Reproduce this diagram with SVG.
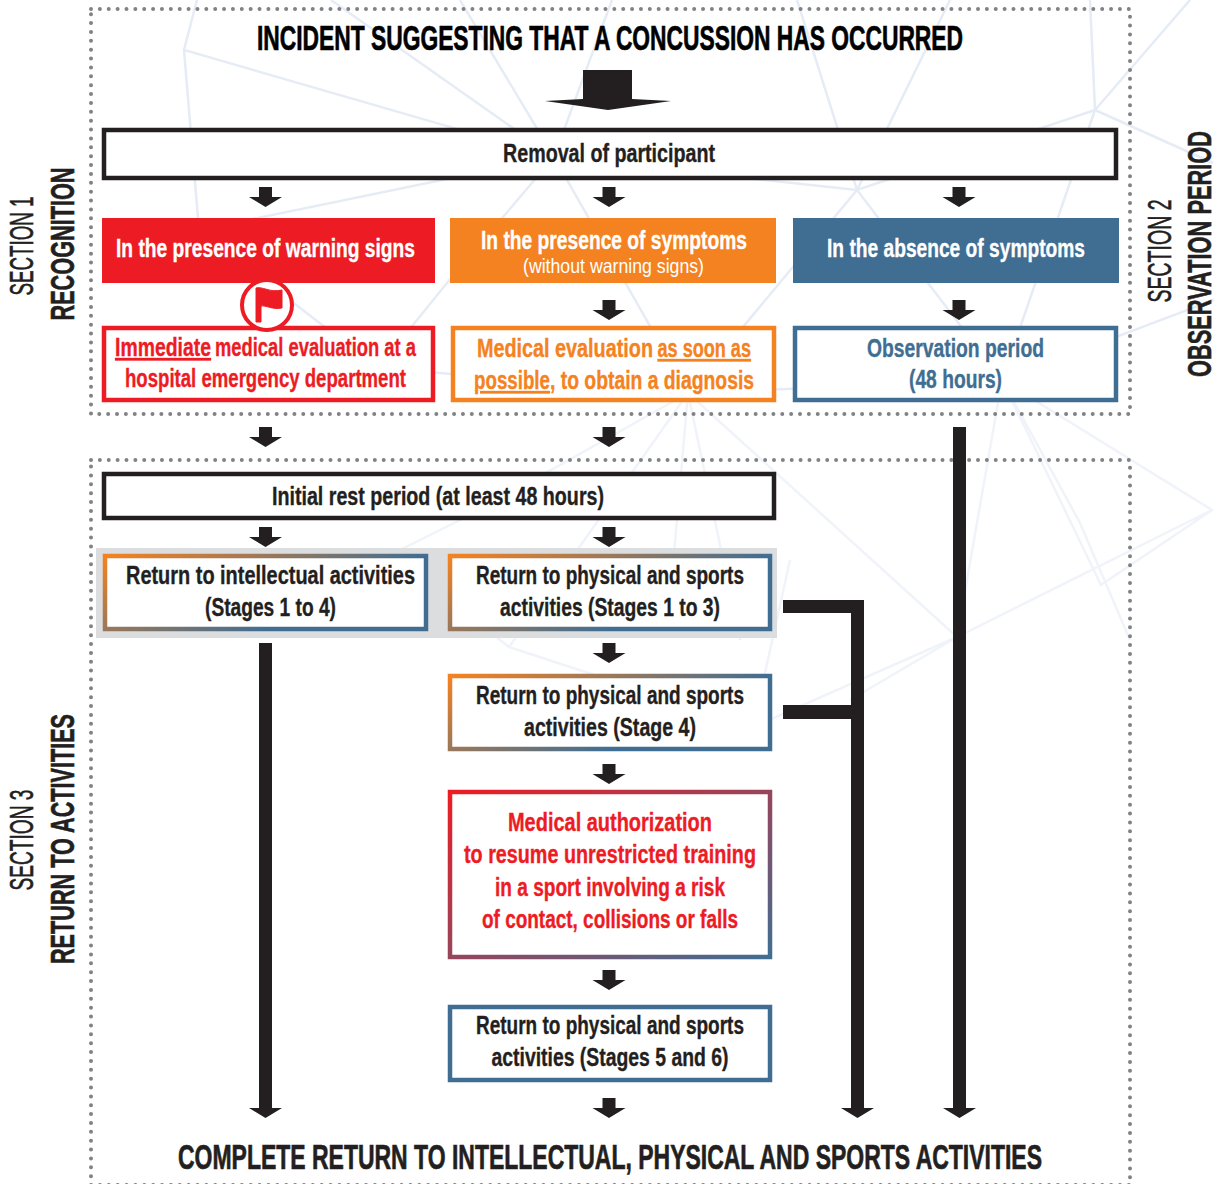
<svg xmlns="http://www.w3.org/2000/svg" width="1214" height="1184" viewBox="0 0 1214 1184">
<style>
text{font-family:"Liberation Sans Narrow","Liberation Sans",Arial,sans-serif;font-weight:700;text-anchor:middle}
.t{font-size:25px;fill:#231f20;stroke:#231f20;stroke-width:.35}
.h{font-size:35px;fill:#000;stroke:#000;stroke-width:.7}
.w{fill:#fff;stroke:#fff}
.r{fill:#ed1c24;stroke:#ed1c24}
.o{fill:#f58220;stroke:#f58220}
.b{fill:#406e93;stroke:#406e93}
.n{font-weight:400;stroke-width:0}
.s{font-size:33px;fill:#231f20;stroke:#231f20;stroke-width:.6}
.st{text-anchor:start}
.box{fill:#fff;stroke-width:4.5}
.dot{fill:none;stroke:#808285;stroke-width:4;stroke-linecap:round;stroke-dasharray:0 8.87}
.web{fill:none;stroke:#e6ecf5;stroke-width:2.5}
.web2{fill:none;stroke:#f0f3f9;stroke-width:2.5}
.d{fill:#231f20}
</style>
<defs>
<linearGradient id="ob" x1="0" y1="0" x2="0.8" y2="0.4"><stop offset="0" stop-color="#f58220"/><stop offset="1" stop-color="#406e93"/></linearGradient>
<linearGradient id="rb" x1="0" y1="0" x2="1" y2="1"><stop offset="0" stop-color="#ed1c24"/><stop offset="1" stop-color="#406e93"/></linearGradient>
<path id="a" d="M-6.500,0H6.500V10H16.500L0,20L-16.500,10H-6.500Z"/>
</defs>
<rect width="1214" height="1184" fill="#fff"/>
<g id="background">
<path class="web" d="M197,0L184,50L554,157L857,190L1095,110L1090,0M184,50L199,230L378,368L688,393L1002,380L857,190L797,0M331,0L554,157L612,0M460,0L554,157L688,393M199,230L554,157L447,283L378,368M950,0L857,190L688,393M1095,110L1190,0M1095,110L1213,163M1095,110L1002,380L1214,300"/>
<path class="web2" d="M1002,380L1212,510L1101,585L1002,380L957,637L1212,510M688,393L957,637M688,393L740,640M688,393L670,600M688,393L480,510L300,600M688,393L509,647L753,727L957,637L850,700M1002,380L1080,523L1130,640M509,647L450,600M753,727L790,560"/>
</g>
<g id="frames">
<rect class="dot" x="91" y="9" width="1039" height="405"/>
<rect class="dot" x="91" y="460" width="1039" height="725"/>
<rect x="96" y="548" width="681" height="90" fill="#dcddde"/>
</g>
<g id="connectors" class="d">
<path d="M583,70H632V99L671,101L608,110L545,101L583,99Z"/>
<use href="#a" x="265.500" y="187"/><use href="#a" x="609" y="187"/><use href="#a" x="959" y="187"/>
<use href="#a" x="609" y="300"/><use href="#a" x="959" y="300"/>
<use href="#a" x="265.500" y="427"/><use href="#a" x="609" y="427"/>
<use href="#a" x="265.500" y="527"/><use href="#a" x="609" y="527"/>
<use href="#a" x="609" y="643"/><use href="#a" x="609" y="764"/><use href="#a" x="609" y="970"/><use href="#a" x="609" y="1098"/>
<path d="M259,643H272V1108H282L265.500,1118L249,1108H259Z"/>
<path d="M783,600H864V1108H874L857.500,1118L841,1108H851V719H783V705H851V613H783Z"/>
<path d="M953,427H966V1108H976L959.500,1118L943,1108H953Z"/>
</g>
<g id="title"><text class="h" x="610" y="50" textLength="706" lengthAdjust="spacingAndGlyphs">INCIDENT SUGGESTING THAT A CONCUSSION HAS OCCURRED</text></g>
<g id="removal"><rect class="box" x="104" y="130" width="1012" height="48" stroke="#231f20"/><text class="t" x="609" y="162" textLength="212" lengthAdjust="spacingAndGlyphs">Removal of participant</text></g>
<g id="warning"><rect x="102" y="218" width="333" height="65" fill="#ed1c24"/><text class="t w" x="265.500" y="257" textLength="299" lengthAdjust="spacingAndGlyphs">In the presence of warning signs</text></g>
<g id="symptoms"><rect x="450" y="218" width="326" height="65" fill="#f58220"/><text class="t w" x="614" y="249" textLength="266" lengthAdjust="spacingAndGlyphs">In the presence of symptoms</text><text class="t w n" style="font-size:21px" x="613.500" y="273" textLength="181" lengthAdjust="spacingAndGlyphs">(without warning signs)</text></g>
<g id="absence"><rect x="793" y="218" width="326" height="65" fill="#406e93"/><text class="t w" x="956" y="257" textLength="258" lengthAdjust="spacingAndGlyphs">In the absence of symptoms</text></g>
<g id="immediate"><rect class="box" x="104" y="328" width="329" height="72" stroke="#ed1c24"/><text class="t r st" x="115" y="356" textLength="96" lengthAdjust="spacingAndGlyphs" text-decoration="underline">Immediate</text><text class="t r st" x="215" y="356" textLength="201" lengthAdjust="spacingAndGlyphs">medical evaluation at a</text><text class="t r" x="265.500" y="387" textLength="281" lengthAdjust="spacingAndGlyphs">hospital emergency department</text></g>
<g id="flag"><circle cx="267" cy="305" r="25" fill="#fff" stroke="#ed1c24" stroke-width="4"/><path class="r" d="M256,288C262,286 270,293 282,290V308C272,310 266,305 261,306V322H256Z"/></g>
<g id="evaluation"><rect class="box" x="453" y="328" width="321" height="72" stroke="#f58220"/><text class="t o st" x="477" y="357" textLength="176" lengthAdjust="spacingAndGlyphs">Medical evaluation</text><text class="t o st" x="657.500" y="357" textLength="93.500" lengthAdjust="spacingAndGlyphs" text-decoration="underline">as soon as</text><text class="t o st" x="474" y="389" textLength="76" lengthAdjust="spacingAndGlyphs" text-decoration="underline">possible</text><text class="t o st" x="550" y="389" textLength="204" lengthAdjust="spacingAndGlyphs">, to obtain a diagnosis</text></g>
<g id="observation"><rect class="box" x="795" y="328" width="321" height="72" stroke="#406e93"/><text class="t b" x="955.500" y="357" textLength="177" lengthAdjust="spacingAndGlyphs">Observation period</text><text class="t b" x="955.500" y="388" textLength="93" lengthAdjust="spacingAndGlyphs">(48 hours)</text></g>
<g id="rest"><rect class="box" x="104" y="474" width="670" height="44" stroke="#231f20"/><text class="t" x="438" y="505" textLength="332" lengthAdjust="spacingAndGlyphs">Initial rest period (at least 48 hours)</text></g>
<g id="intellectual"><rect class="box" x="105" y="556" width="321" height="73" stroke="url(#ob)"/><text class="t" x="270.500" y="584" textLength="289" lengthAdjust="spacingAndGlyphs">Return to intellectual activities</text><text class="t" x="270.500" y="616" textLength="131" lengthAdjust="spacingAndGlyphs">(Stages 1 to 4)</text></g>
<g id="physical13"><rect class="box" x="450" y="556" width="320" height="73" stroke="url(#ob)"/><text class="t" x="610" y="584" textLength="268" lengthAdjust="spacingAndGlyphs">Return to physical and sports</text><text class="t" x="610" y="616" textLength="220" lengthAdjust="spacingAndGlyphs">activities (Stages 1 to 3)</text></g>
<g id="physical4"><rect class="box" x="450" y="676" width="320" height="73" stroke="url(#ob)"/><text class="t" x="610" y="704" textLength="268" lengthAdjust="spacingAndGlyphs">Return to physical and sports</text><text class="t" x="610" y="736" textLength="172" lengthAdjust="spacingAndGlyphs">activities (Stage 4)</text></g>
<g id="authorization"><rect class="box" x="450" y="792" width="320" height="165" stroke="url(#rb)"/><text class="t r" x="610" y="831" textLength="204" lengthAdjust="spacingAndGlyphs">Medical authorization</text><text class="t r" x="610" y="863" textLength="292" lengthAdjust="spacingAndGlyphs">to resume unrestricted training</text><text class="t r" x="610" y="896" textLength="230" lengthAdjust="spacingAndGlyphs">in a sport involving a risk</text><text class="t r" x="610" y="928" textLength="256" lengthAdjust="spacingAndGlyphs">of contact, collisions or falls</text></g>
<g id="physical56"><rect class="box" x="450" y="1007" width="320" height="73" stroke="#406e93"/><text class="t" x="610" y="1034" textLength="268" lengthAdjust="spacingAndGlyphs">Return to physical and sports</text><text class="t" x="610" y="1066" textLength="237" lengthAdjust="spacingAndGlyphs">activities (Stages 5 and 6)</text></g>
<g id="complete"><text class="h" style="fill:#231f20;stroke:#231f20" x="610" y="1169" textLength="864" lengthAdjust="spacingAndGlyphs">COMPLETE RETURN TO INTELLECTUAL, PHYSICAL AND SPORTS ACTIVITIES</text></g>
<g id="labels">
<text class="s n" transform="translate(33,246) rotate(-90)" textLength="99" lengthAdjust="spacingAndGlyphs">SECTION 1</text>
<text class="s" transform="translate(74,244) rotate(-90)" textLength="153" lengthAdjust="spacingAndGlyphs">RECOGNITION</text>
<text class="s n" transform="translate(1171,251) rotate(-90)" textLength="103" lengthAdjust="spacingAndGlyphs">SECTION 2</text>
<text class="s" transform="translate(1211,254) rotate(-90)" textLength="246" lengthAdjust="spacingAndGlyphs">OBSERVATION PERIOD</text>
<text class="s n" transform="translate(33,840) rotate(-90)" textLength="101" lengthAdjust="spacingAndGlyphs">SECTION 3</text>
<text class="s" transform="translate(74,839) rotate(-90)" textLength="250" lengthAdjust="spacingAndGlyphs">RETURN TO ACTIVITIES</text>
</g>
</svg>
